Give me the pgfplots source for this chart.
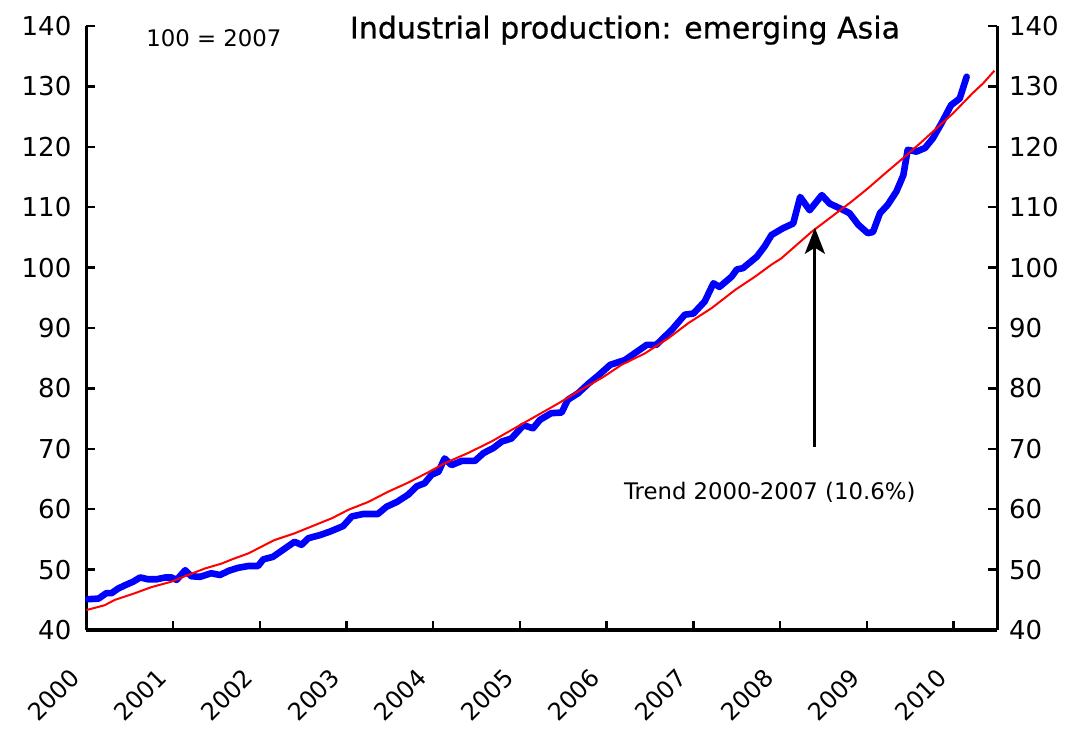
\documentclass[border=0pt]{standalone}
\usepackage{pgfplots}
\pgfplotsset{compat=1.18}
\usepackage{fontspec}
\setmainfont{DejaVu Sans}
\newfontfamily\titlefont[FakeBold=0.6]{DejaVu Sans}
\usetikzlibrary{arrows.meta}

\pgfplotsset{
  common/.style={
    at={(0pt,0pt)}, anchor=south west,
    scale only axis, width=455.3pt, height=302pt,
    xmin=2000, xmax=2010.5, ymin=40, ymax=140,
    tick align=inside, major tick length=4.5pt,
    tick style={line width=1.2pt, black},
    ytick={40,50,...,140},
    /pgf/number format/assume math mode=true,
    /pgf/number format/1000 sep={},
    ticklabel style={font=\fontsize{13}{15}\selectfont},
    clip=false,
  }
}

\begin{document}
\begin{tikzpicture}
\path (-43.2pt,-51.5pt) rectangle (499.8pt,315pt);
\begin{axis}[common,
  axis x line*=bottom, axis y line*=left,
  axis line style={-, line width=1.5pt},
  x axis line style={line width=2pt},
  xtick={2000,...,2010},
  xticklabel style={font=\fontsize{12}{14}\selectfont, xshift=-5.5pt, yshift=-21.5pt, rotate=45, anchor=east, inner sep=0pt},
  yticklabel style={xshift=-4pt},
]
\addplot[color={rgb,255:red,0;green,0;blue,255}, line width=3.3pt, line join=round, line cap=round] coordinates {
(2000.02,45.1) (2000.14,45.2) (2000.23,46.1) (2000.29,46.1) (2000.37,46.9) (2000.46,47.5) (2000.54,48.0) (2000.62,48.7) (2000.71,48.4) (2000.81,48.4) (2000.91,48.7) (2000.98,48.7) (2001.04,48.3) (2001.14,49.9) (2001.21,48.9) (2001.31,48.8) (2001.44,49.4) (2001.54,49.1) (2001.64,49.8) (2001.75,50.3) (2001.87,50.6) (2001.98,50.6) (2002.04,51.7) (2002.15,52.1) (2002.29,53.5) (2002.40,54.6) (2002.48,54.1) (2002.56,55.2) (2002.69,55.7) (2002.81,56.3) (2002.96,57.2) (2003.06,58.8) (2003.19,59.2) (2003.36,59.2) (2003.46,60.4) (2003.58,61.2) (2003.71,62.4) (2003.81,63.8) (2003.90,64.3) (2003.98,65.7) (2004.06,66.2) (2004.13,68.4) (2004.21,67.3) (2004.33,68.0) (2004.48,68.0) (2004.58,69.3) (2004.69,70.1) (2004.79,71.2) (2004.90,71.7) (2005.04,73.9) (2005.15,73.4) (2005.23,74.8) (2005.36,75.9) (2005.48,76.0) (2005.55,78.1) (2005.67,79.2) (2005.79,80.8) (2005.90,82.1) (2006.04,83.9) (2006.21,84.7) (2006.32,85.8) (2006.46,87.2) (2006.57,87.2) (2006.75,89.7) (2006.90,92.2) (2007.00,92.4) (2007.13,94.4) (2007.23,97.4) (2007.30,96.8) (2007.44,98.5) (2007.50,99.7) (2007.57,99.9) (2007.73,101.8) (2007.82,103.5) (2007.90,105.4) (2008.03,106.5) (2008.15,107.3) (2008.23,111.7) (2008.34,109.5) (2008.48,112.0) (2008.57,110.6) (2008.69,109.8) (2008.80,109.0) (2008.90,107.1) (2009.01,105.7) (2009.07,105.9) (2009.15,109.0) (2009.24,110.4) (2009.34,112.6) (2009.42,115.3) (2009.47,119.5) (2009.57,119.2) (2009.67,119.8) (2009.76,121.4) (2009.86,123.9) (2009.97,126.9) (2010.07,128.0) (2010.15,131.6)
};
\addplot[color={rgb,255:red,255;green,0;blue,0}, line width=1pt, line join=round] coordinates {
(2000.00,43.3) (2000.21,44.1) (2000.33,45.0) (2000.56,46.1) (2000.75,47.1) (2000.98,48.0) (2001.17,49.1) (2001.37,50.2) (2001.56,51.0) (2001.68,51.7) (2001.87,52.7) (2002.06,54.1) (2002.17,54.9) (2002.40,56.0) (2002.64,57.4) (2002.83,58.5) (2003.02,59.9) (2003.25,61.2) (2003.48,62.9) (2003.71,64.4) (2003.94,66.1) (2004.13,67.6) (2004.40,69.3) (2004.67,71.2) (2004.90,73.1) (2005.17,75.3) (2005.44,77.5) (2005.67,79.5) (2005.95,81.8) (2006.17,83.9) (2006.44,85.8) (2006.71,88.3) (2006.94,90.8) (2007.21,93.3) (2007.48,96.3) (2007.71,98.5) (2007.90,100.5) (2008.01,101.5) (2008.36,105.9) (2008.59,108.4) (2008.82,110.9) (2009.01,113.1) (2009.21,115.6) (2009.44,118.4) (2009.63,120.8) (2009.99,125.5) (2010.22,128.9) (2010.34,130.5) (2010.47,132.6)
};
\draw[line width=1.5pt, -{Stealth[length=13pt, width=10pt, inset=3pt]}] (axis cs:2008.40,70.3) -- (axis cs:2008.40,106.6);
\node[font=\fontsize{11.4}{13}\selectfont] at (axis cs:2007.88,62.8) {Trend 2000-2007 (10.6\%)};
\node[font=\fontsize{11.4}{13}\selectfont] at (axis cs:2001.47,138.0) {100 = 2007};
\node[font=\titlefont\fontsize{15}{17}\selectfont] at (axis cs:2006.21,139.3) {Industrial production: emerging Asia};
\end{axis}
\begin{axis}[common,
  axis x line=none, axis y line*=right,
  axis line style={-, line width=1.5pt},
  yticklabel style={xshift=2.5pt},
]
\end{axis}
\end{tikzpicture}
\end{document}
